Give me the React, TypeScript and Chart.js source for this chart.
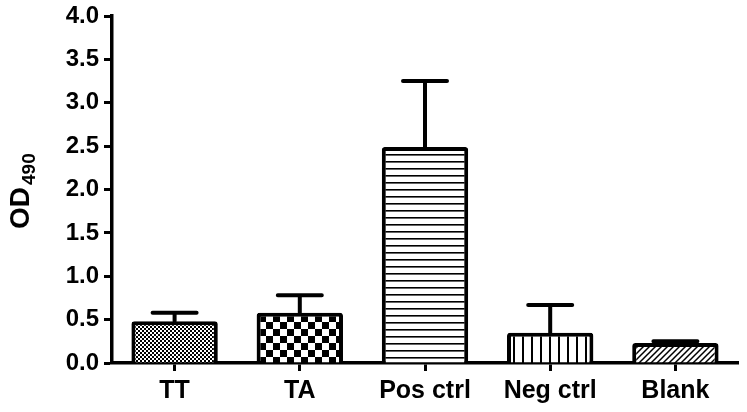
import React, { useEffect, useRef } from "react";
import { Chart, registerables } from "chart.js";

Chart.register(...registerables);

const categories = ["TT", "TA", "Pos ctrl", "Neg ctrl", "Blank"];
const means = [0.48, 0.58, 2.49, 0.35, 0.23];
const upperErrors = [0.1, 0.2, 0.76, 0.32, 0.02];
const patternKinds = ["fineChecker", "checker", "hLines", "vLines", "diag"];
const yTicks = [0, 0.5, 1.0, 1.5, 2.0, 2.5, 3.0, 3.5, 4.0];

function makePattern(kind: string): CanvasPattern | string {
  const c = document.createElement("canvas");
  const ctx = c.getContext("2d")!;
  let s = 4;
  if (kind === "fineChecker") {
    s = 4;
    c.width = s; c.height = s;
    ctx.fillStyle = "#fff"; ctx.fillRect(0, 0, s, s);
    ctx.fillStyle = "#000";
    ctx.fillRect(0, 0, 2, 2); ctx.fillRect(2, 2, 2, 2);
  } else if (kind === "checker") {
    s = 14;
    c.width = s; c.height = s;
    ctx.fillStyle = "#fff"; ctx.fillRect(0, 0, s, s);
    ctx.fillStyle = "#000";
    ctx.fillRect(0, 0, 7, 7); ctx.fillRect(7, 7, 7, 7);
  } else if (kind === "hLines") {
    c.width = 8; c.height = 7;
    ctx.fillStyle = "#fff"; ctx.fillRect(0, 0, 8, 7);
    ctx.fillStyle = "#000"; ctx.fillRect(0, 0, 8, 1.6);
  } else if (kind === "vLines") {
    c.width = 9; c.height = 8;
    ctx.fillStyle = "#fff"; ctx.fillRect(0, 0, 9, 8);
    ctx.fillStyle = "#000"; ctx.fillRect(0, 0, 2, 8);
  } else {
    s = 6;
    c.width = s; c.height = s;
    ctx.fillStyle = "#fff"; ctx.fillRect(0, 0, s, s);
    ctx.strokeStyle = "#000"; ctx.lineWidth = 1.5;
    ctx.beginPath();
    ctx.moveTo(-1, s + 1); ctx.lineTo(s + 1, -1);
    ctx.moveTo(-1, 1); ctx.lineTo(1, -1);
    ctx.moveTo(s - 1, s + 1); ctx.lineTo(s + 1, s - 1);
    ctx.stroke();
  }
  const p = ctx.createPattern(c, "repeat");
  return p || "#888";
}

const errorBarPlugin = {
  id: "errorBars",
  afterDatasetsDraw(chart: any) {
    const ctx = chart.ctx;
    const meta = chart.getDatasetMeta(0);
    const yScale = chart.scales.y;
    ctx.save();
    ctx.strokeStyle = "#000";
    ctx.lineWidth = 4;
    ctx.lineCap = "round";
    meta.data.forEach((bar: any, i: number) => {
      const x = bar.x;
      const yBase = yScale.getPixelForValue(means[i]);
      const yTop = yScale.getPixelForValue(means[i] + upperErrors[i]);
      ctx.beginPath();
      ctx.moveTo(x, yBase);
      ctx.lineTo(x, yTop);
      ctx.moveTo(x - 22, yTop);
      ctx.lineTo(x + 22, yTop);
      ctx.stroke();
    });
    ctx.restore();
  },
};

const yLabelPlugin = {
  id: "yLabel",
  afterDraw(chart: any) {
    const ctx = chart.ctx;
    ctx.save();
    ctx.translate(29, 229);
    ctx.rotate(-Math.PI / 2);
    ctx.fillStyle = "#000";
    ctx.textAlign = "left";
    ctx.textBaseline = "alphabetic";
    ctx.font = "bold 28px 'Liberation Sans', Arial, sans-serif";
    ctx.fillText("OD", 0, 0);
    const w = ctx.measureText("OD").width;
    ctx.font = "bold 19px 'Liberation Sans', Arial, sans-serif";
    ctx.fillText("490", w + 2, 6);
    ctx.restore();
  },
};

export default function App() {
  const ref = useRef<HTMLCanvasElement | null>(null);
  useEffect(() => {
    if (!ref.current) return;
    const chart = new Chart(ref.current, {
      type: "bar",
      data: {
        labels: categories,
        datasets: [
          {
            data: means,
            backgroundColor: patternKinds.map((k) => makePattern(k)) as any,
            borderColor: "#000",
            borderWidth: 4,
            borderRadius: 3,
            borderSkipped: "start",
            barPercentage: 0.69,
            categoryPercentage: 1,
          },
        ],
      },
      options: {
        responsive: false,
        animation: false,
        layout: { padding: { top: 16, right: 9, left: 0, bottom: 0 } },
        plugins: {
          legend: { display: false },
          tooltip: { enabled: false },
        },
        scales: {
          x: {
            offset: true,
            border: { display: true, color: "#000", width: 3.5 },
            grid: {
              display: true,
              drawOnChartArea: false,
              drawTicks: true,
              tickLength: 8,
              tickWidth: 3,
              tickColor: "#000",
              offset: false,
            },
            ticks: {
              color: "#000",
              padding: 5,
              font: { family: "'Liberation Sans', Arial, sans-serif", size: 25, weight: "bold" },
            },
            afterFit(scale: any) {
              scale.height = 49;
              scale.paddingLeft = 0;
              scale.paddingRight = 0;
            },
          },
          y: {
            min: 0,
            max: 4,
            border: { display: true, color: "#000", width: 3.5 },
            grid: {
              display: true,
              drawOnChartArea: false,
              drawTicks: true,
              tickLength: 8,
              tickWidth: 3,
              tickColor: "#000",
            },
            afterBuildTicks(scale: any) {
              scale.ticks = yTicks.map((v) => ({ value: v }));
            },
            ticks: {
              color: "#000",
              padding: 5,
              font: { family: "'Liberation Sans', Arial, sans-serif", size: 24, weight: "bold" },
              callback: (v: any) => Number(v).toFixed(1),
            },
            afterFit(scale: any) {
              scale.width = 112;
              scale.paddingTop = 0;
              scale.paddingBottom = 0;
            },
          },
        },
      },
      plugins: [errorBarPlugin, yLabelPlugin],
    });
    return () => chart.destroy();
  }, []);
  return (
    <div style={{ position: "fixed", left: 0, top: 0, width: 747, height: 412, background: "#fff" }}>
      <canvas ref={ref} width={747} height={412} />
    </div>
  );
}
